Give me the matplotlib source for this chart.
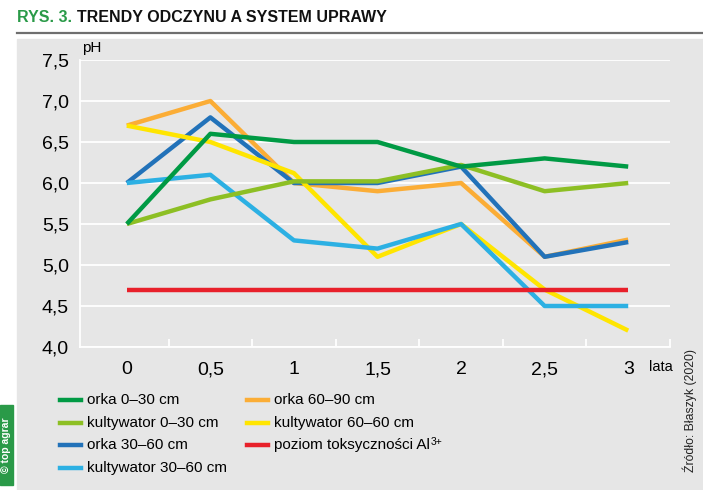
import matplotlib.pyplot as plt
from matplotlib.patches import Rectangle
from matplotlib.lines import Line2D

plt.rcParams['font.family'] = ['Liberation Sans', 'DejaVu Sans']

years = ['0', '0,5', '1', '1,5', '2', '2,5', '3']
orka_0_30 = [5.5, 6.6, 6.5, 6.5, 6.2, 6.3, 6.2]
kult_0_30 = [5.5, 5.8, 6.02, 6.02, 6.22, 5.9, 6.0]
orka_30_60 = [6.0, 6.8, 6.0, 6.0, 6.2, 5.1, 5.28]
kult_30_60 = [6.0, 6.1, 5.3, 5.2, 5.5, 4.5, 4.5]
orka_60_90 = [6.7, 7.0, 6.0, 5.9, 6.0, 5.1, 5.31]
kult_60_60 = [6.7, 6.5, 6.12, 5.1, 5.5, 4.7, 4.2]
al_level = [4.7] * 7

series = [
    ('orka 0–30 cm', orka_0_30, '#009a44'),
    ('kultywator 0–30 cm', kult_0_30, '#8dbf24'),
    ('orka 30–60 cm', orka_30_60, '#2272b9'),
    ('kultywator 30–60 cm', kult_30_60, '#2cb0e3'),
    ('orka 60–90 cm', orka_60_90, '#fbad36'),
    ('kultywator 60–60 cm', kult_60_60, '#ffe500'),
    ('poziom toksyczności Al', al_level, '#e8202a'),
]

W, H = 703, 490
fig = plt.figure(figsize=(W / 100, H / 100), dpi=100)
fig.patch.set_facecolor('white')
r = fig.canvas.get_renderer()

bg = '#e6e6e6'
fig.patches.append(Rectangle((17 / W, 0), 1 - 17 / W, (H - 39) / H,
                             transform=fig.transFigure, color=bg, zorder=-10))
# title rule
fig.add_artist(Line2D([17 / W, 1], [1 - 33 / H, 1 - 33 / H], transform=fig.transFigure,
                      color='#6f6f6f', lw=1.6))

# title
t1 = fig.text(17 / W, 1 - 22 / H, 'RYS. 3.', color='#2a9a48', fontsize=11.5,
              fontweight='bold')
bb = t1.get_window_extent(renderer=r)
fig.text(bb.x1 / W + 5 / W, 1 - 22 / H, 'TRENDY ODCZYNU A SYSTEM UPRAWY', color='#111111',
         fontsize=11.5, fontweight='bold')

ax = fig.add_axes([80 / W, 1 - 347 / H, 590 / W, 287 / H], zorder=2)
ax.set_facecolor(bg)
x = list(range(len(years)))

order = [4, 2, 5, 3, 1, 0, 6]
for i in order:
    name, vals, col = series[i]
    ax.plot(x, vals, color=col, lw=3.2, solid_capstyle='butt', zorder=3)

ax.set_xlim(-0.56, 6.5)
ax.set_ylim(4.0, 7.5)
ax.set_yticks([4.0 + 0.5 * k for k in range(8)])
ax.set_yticklabels([f'{4.0 + 0.5 * k:.1f}'.replace('.', ',') for k in range(8)], fontsize=14)
ax.yaxis.grid(True, color='white', lw=1.3, zorder=1)
ax.set_axisbelow(True)

ax.set_xticks([k + 0.5 for k in range(6)] + [6.5])
ax.set_xticklabels([])
ax.tick_params(axis='x', direction='in', length=6, width=1.3, color='white')
ax.tick_params(axis='y', length=0, pad=8)
for k, lab in enumerate(years):
    ax.text(k, -0.05, lab, transform=ax.get_xaxis_transform(), ha='center', va='top',
            fontsize=14)
fig.text(649 / W, 1 - 367 / H, 'lata', ha='left', va='center', fontsize=10.5)
fig.text(82 / W, 1 - 48 / H, 'pH', fontsize=11, ha='left', va='center')

for s in ['top', 'right']:
    ax.spines[s].set_visible(False)
ax.spines['left'].set_color('white')
ax.spines['bottom'].set_color('white')
ax.spines['left'].set_linewidth(1.3)
ax.spines['bottom'].set_linewidth(1.3)

# legend
col_x = [60, 247]
row_y = [400, 423, 445, 468]
layout = [(0, 0, 0), (1, 0, 1), (2, 0, 2), (3, 0, 3), (4, 1, 0), (5, 1, 1), (6, 1, 2)]
for i, c, rr in layout:
    name, vals, col = series[i]
    y = 1 - row_y[rr] / H
    fig.add_artist(Line2D([col_x[c] / W, (col_x[c] + 21) / W], [y, y], transform=fig.transFigure,
                          color=col, lw=3.2))
    t = fig.text((col_x[c] + 27) / W, y, name, fontsize=11, ha='left', va='center')
    if i == 6:
        tb = t.get_window_extent(renderer=r)
        fig.text(tb.x1 / W + 0.5 / W, y + 3 / H, '3+', fontsize=7.5, ha='left', va='center')

# source
fig.text(690 / W, 1 - 410 / H, 'Źródło: Błaszyk (2020)', rotation=90, fontsize=8.8,
         ha='center', va='center', color='#222222')

# badge
fig.patches.append(Rectangle((0, 5 / H), 13 / W, 80 / H, transform=fig.transFigure,
                             color='#2a9a48', zorder=1))
fig.text(6.5 / W, 45 / H, '© top agrar', rotation=90, fontsize=7.5, fontweight='bold',
         color='white', ha='center', va='center')

fig.savefig('out.png', dpi=100)
